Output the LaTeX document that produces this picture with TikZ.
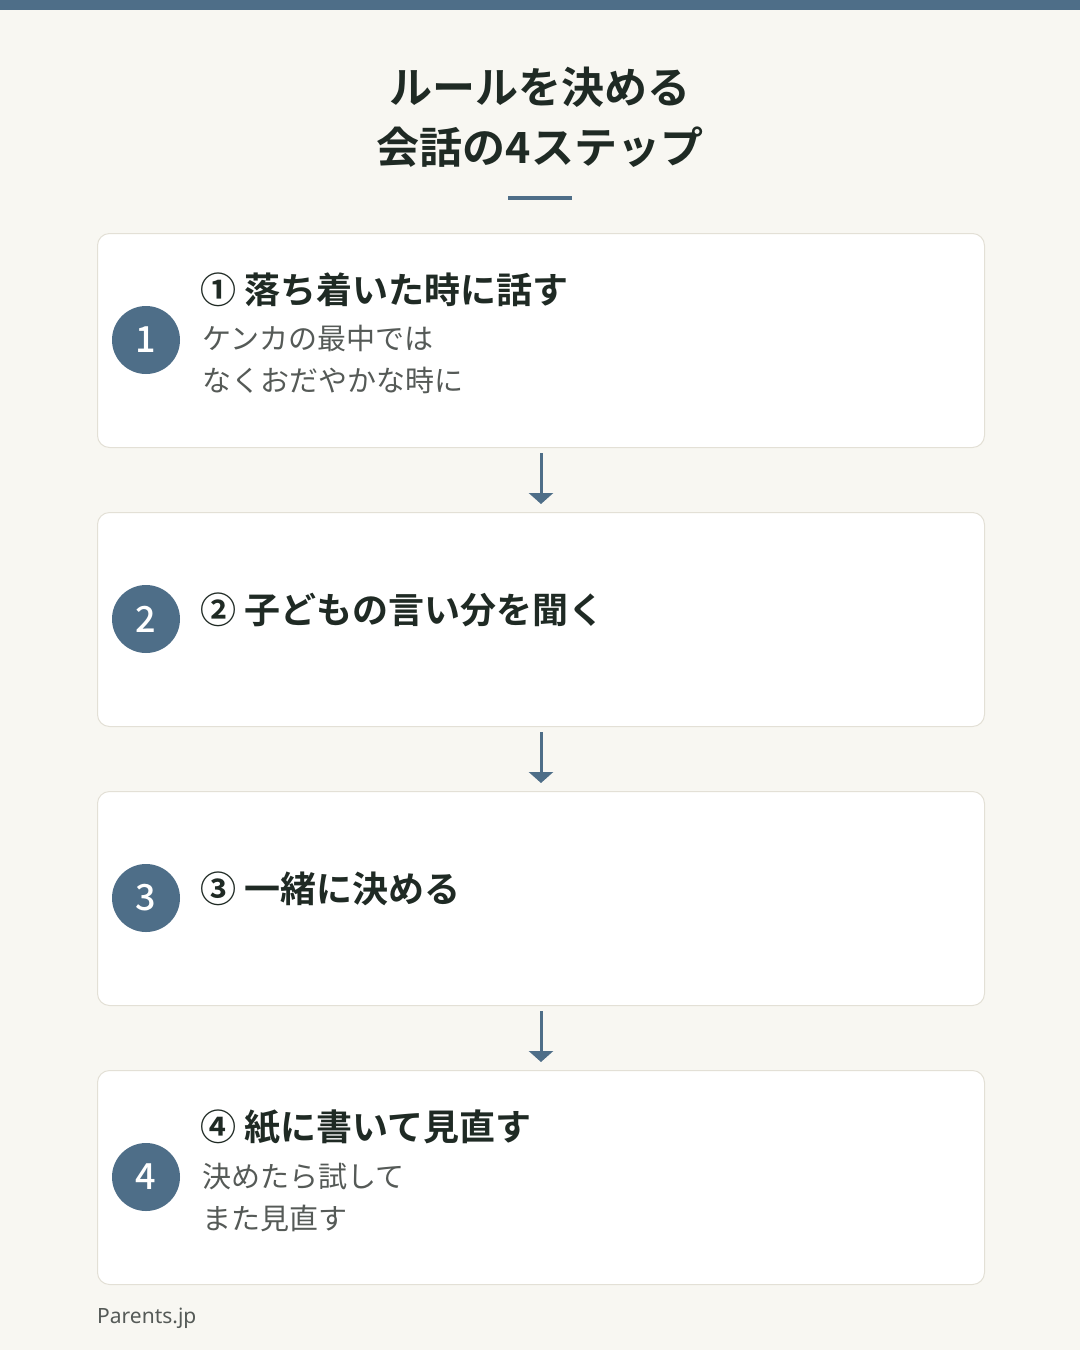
\documentclass[tikz,border=0pt]{standalone}
\usepackage{fontspec}
\setmainfont{Noto Sans CJK JP}
\newfontfamily\jpbold{Noto Sans CJK JP Bold}
\newfontfamily\jpmed{Noto Sans CJK JP Medium}
\newfontfamily\latinsans{Noto Sans}
\usetikzlibrary{positioning, arrows.meta}
\definecolor{accent}{HTML}{4E6E88}
\definecolor{paper}{HTML}{F8F7F2}
\definecolor{edge}{HTML}{E3E0D6}
\definecolor{ink}{HTML}{1F2A24}
\definecolor{subink}{HTML}{555A57}
\tikzset{
  stepbox/.style={rectangle, rounded corners=12pt, draw=edge, line width=1pt, fill=white, minimum width=887pt, minimum height=214pt, anchor=north west, inner sep=0pt},
  badge/.style={circle, fill=accent, minimum size=68pt, inner sep=0pt, text=white, font=\jpmed\fontsize{36}{36}\selectfont},
  heading/.style={anchor=base west, inner sep=0pt, text=ink, font=\jpbold\fontsize{36}{36}\selectfont},
  subline/.style={anchor=base west, inner sep=0pt, text=subink, font=\fontsize{29}{29}\selectfont},
  arrow/.style={-{Triangle[width=24pt,length=11pt]}, draw=accent, line width=3pt, shorten <=5pt, shorten >=8pt},
}
\begin{document}
\begin{tikzpicture}[x=1pt, y=-1pt]

  % Canvas
  \fill[paper] (0,0) rectangle (1080,1350);
  \fill[accent] (0,0) rectangle (1080,10);
  \useasboundingbox (0,0) rectangle (1080,1350);

  % Title
  \node[text=ink, align=center, font=\jpbold\fontsize{43}{60}\selectfont] (title) at (540,117) {ルールを決める\\会話の4ステップ};
  \fill[accent] (508,196) rectangle (572,200);

  % Boxes
  \node[stepbox] (box1) at (97,233) {};
  \node[stepbox] (box2) at (97,512) {};
  \node[stepbox] (box3) at (97,791) {};
  \node[stepbox] (box4) at (97,1070) {};

  % Badges
  \node[badge] (num1) at (146,340) {1};
  \node[badge] (num2) at (146,619) {2};
  \node[badge] (num3) at (146,898) {3};
  \node[badge] (num4) at (146,1177) {4};

  % Texts
  \node[heading] (head1) at (200,303) {① 落ち着いた時に話す};
  \node[subline] (sub1a) at (202,349) {ケンカの最中では};
  \node[subline] (sub1b) at (202,391) {なくおだやかな時に};
  \node[heading] (head2) at (200,623) {② 子どもの言い分を聞く};
  \node[heading] (head3) at (200,902) {③ 一緒に決める};
  \node[heading] (head4) at (200,1140) {④ 紙に書いて見直す};
  \node[subline] (sub4a) at (202,1187) {決めたら試して};
  \node[subline] (sub4b) at (202,1229) {また見直す};

  % Arrows
  \draw[arrow] (box1.south) -- (box2.north);
  \draw[arrow] (box2.south) -- (box3.north);
  \draw[arrow] (box3.south) -- (box4.north);

  % Footer
  \node[anchor=base west, inner sep=0pt, text=subink, font=\latinsans\fontsize{21}{21}\selectfont] (source) at (97,1323) {Parents.jp};

\end{tikzpicture}
\end{document}
